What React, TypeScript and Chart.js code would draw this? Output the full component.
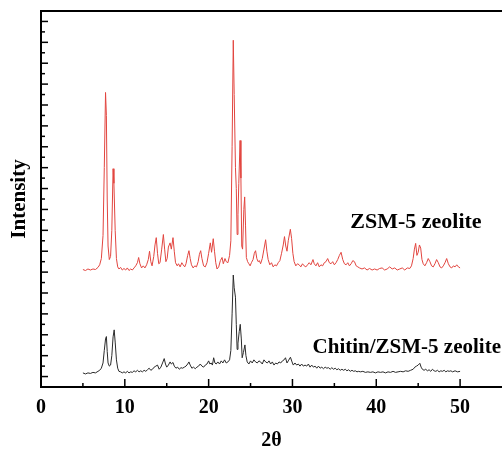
import { useEffect, useRef } from 'react';
import { Chart, registerables } from 'chart.js';

Chart.register(...registerables);

// ---- Data ----
const seriesNames = ['ZSM-5 zeolite', 'Chitin/ZSM-5 zeolite'];
const majorXTicks = [0, 10, 20, 30, 40, 50];

const zsmTheta = [
  5.0, 5.3, 5.6, 5.9, 6.2, 6.5, 6.8, 7.0, 7.2, 7.4, 7.55, 7.7, 7.8, 7.9, 8.0, 8.15, 8.3, 8.45, 8.6, 8.7,
  8.85, 9.0, 9.15, 9.3, 9.5, 9.7, 9.9, 10.1, 10.3, 10.5, 10.7, 10.9, 11.1, 11.3, 11.5, 11.65, 11.8, 12.0, 12.2, 12.4,
  12.6, 12.8, 12.95, 13.1, 13.25, 13.45, 13.6, 13.75, 13.9, 14.05, 14.2, 14.4, 14.6, 14.75, 14.9, 15.05, 15.2, 15.4, 15.55, 15.75,
  15.9, 16.05, 16.25, 16.4, 16.6, 16.8, 16.95, 17.15, 17.3, 17.5, 17.65, 17.8, 17.95, 18.15, 18.35, 18.55, 18.75, 18.9, 19.05, 19.2,
  19.4, 19.6, 19.8, 20.0, 20.2, 20.35, 20.55, 20.7, 20.85, 21.0, 21.2, 21.4, 21.6, 21.75, 21.95, 22.1, 22.3, 22.5, 22.65, 22.8,
  22.94, 23.05, 23.2, 23.3, 23.4, 23.5, 23.6, 23.75, 23.85, 23.95, 24.05, 24.2, 24.3, 24.4, 24.5, 24.65, 24.8, 24.95, 25.1, 25.3,
  25.45, 25.6, 25.75, 25.9, 26.05, 26.2, 26.4, 26.6, 26.8, 26.95, 27.1, 27.3, 27.5, 27.7, 27.9, 28.1, 28.3, 28.5, 28.7, 28.9,
  29.05, 29.2, 29.35, 29.5, 29.75, 29.9, 30.05, 30.2, 30.4, 30.6, 30.8, 31.0, 31.2, 31.4, 31.6, 31.8, 32.0, 32.2, 32.45, 32.6,
  32.8, 33.0, 33.2, 33.4, 33.6, 33.8, 34.0, 34.2, 34.4, 34.6, 34.8, 35.0, 35.2, 35.4, 35.6, 35.8, 36.0, 36.2, 36.4, 36.6,
  36.8, 37.0, 37.2, 37.4, 37.6, 37.8, 38.0, 38.3, 38.6, 38.9, 39.2, 39.5, 39.8, 40.1, 40.4, 40.7, 41.0, 41.3, 41.6, 41.9,
  42.2, 42.5, 42.8, 43.1, 43.4, 43.7, 44.0, 44.2, 44.4, 44.55, 44.7, 44.85, 45.0, 45.15, 45.3, 45.45, 45.6, 45.8, 46.0, 46.2,
  46.4, 46.6, 46.8, 47.0, 47.2, 47.4, 47.6, 47.8, 48.0, 48.2, 48.4, 48.6, 48.8, 49.0, 49.2, 49.4, 49.6, 49.8, 50.0,
];
const zsmIntensity = [
  10.25, 10.15, 10.3, 10.2, 10.3, 10.25, 10.45, 10.7, 11.3, 13.5, 20.0, 27.2, 25.0, 17.0, 12.5, 11.2, 11.5, 14.0, 19.9, 18.5,
  14.0, 11.3, 10.5, 10.3, 10.45, 10.2, 10.35, 10.2, 10.4, 10.15, 10.3, 10.2, 10.4, 10.6, 10.9, 11.4, 10.8, 10.4, 10.6, 10.4,
  10.7, 11.2, 12.0, 11.0, 10.6, 11.5, 12.6, 13.3, 11.8, 10.8, 10.9, 12.2, 13.6, 12.2, 11.0, 11.3, 12.4, 12.8, 12.2, 13.3,
  12.0, 10.9, 10.6, 10.8, 10.5, 10.9, 10.7, 10.5, 10.8, 11.6, 12.05, 11.3, 10.7, 10.4, 10.6, 10.5, 11.0, 11.7, 12.05, 11.3,
  10.6, 10.5, 10.9, 11.8, 12.8, 11.9, 13.2, 12.0, 10.9, 10.3, 10.5, 11.1, 11.4, 10.8, 11.3, 11.0, 10.9, 11.6, 13.0, 22.0,
  32.2, 27.0, 20.0, 18.0, 13.6, 15.5, 18.5, 22.6, 19.0, 12.5, 12.2, 16.0, 17.2, 14.5, 11.4, 11.0, 10.8, 10.6, 10.9, 11.2,
  11.8, 12.05, 11.3, 11.0, 11.1, 10.8, 11.3, 12.2, 13.1, 12.0, 11.2, 10.7, 10.9, 10.5, 10.7, 10.6, 10.9, 11.1, 11.8, 12.6,
  13.4, 12.5, 12.0, 13.0, 14.1, 13.2, 11.8, 11.0, 10.6, 10.8, 10.7, 10.5, 10.8, 10.6, 10.5, 10.7, 10.9, 10.7, 11.2, 10.8,
  10.6, 10.9, 10.5, 10.7, 10.6, 10.9, 11.0, 11.3, 10.9, 10.8, 11.0, 10.7, 10.9, 11.2, 11.6, 11.9, 11.2, 10.8, 10.7, 10.9,
  10.6, 10.8, 11.1, 11.0, 10.6, 10.5, 10.4, 10.3, 10.4, 10.2, 10.35, 10.2, 10.3, 10.2, 10.35, 10.4, 10.2, 10.3, 10.5, 10.3,
  10.4, 10.2, 10.3, 10.4, 10.2, 10.4, 10.35, 10.6, 11.3, 12.2, 12.75, 11.6, 11.9, 12.6, 12.3, 11.2, 10.8, 10.6, 10.9, 11.3,
  11.0, 10.6, 10.5, 10.8, 11.2, 10.9, 10.5, 10.4, 10.6, 10.9, 11.3, 10.8, 10.5, 10.4, 10.6, 10.5, 10.7, 10.5, 10.4,
];

const chitinTheta = [
  5.0, 5.3, 5.6, 5.9, 6.2, 6.5, 6.8, 7.0, 7.2, 7.4, 7.55, 7.7, 7.8, 7.9, 8.0, 8.15, 8.3, 8.45, 8.6, 8.73,
  8.85, 9.0, 9.15, 9.3, 9.5, 9.7, 9.9, 10.1, 10.3, 10.5, 10.7, 10.9, 11.1, 11.3, 11.5, 11.7, 11.9, 12.1, 12.3, 12.5,
  12.7, 12.9, 13.1, 13.3, 13.5, 13.7, 13.9, 14.1, 14.3, 14.5, 14.7, 14.85, 15.0, 15.2, 15.4, 15.55, 15.75, 15.9, 16.1, 16.3,
  16.5, 16.7, 16.9, 17.1, 17.3, 17.5, 17.65, 17.8, 18.0, 18.2, 18.4, 18.6, 18.8, 19.0, 19.2, 19.4, 19.6, 19.8, 20.0, 20.15,
  20.3, 20.45, 20.6, 20.75, 20.9, 21.1, 21.3, 21.5, 21.7, 21.9, 22.1, 22.3, 22.5, 22.65, 22.8, 22.94, 23.05, 23.2, 23.3, 23.4,
  23.5, 23.65, 23.77, 23.9, 24.0, 24.15, 24.33, 24.45, 24.6, 24.8, 25.0, 25.2, 25.4, 25.6, 25.8, 26.0, 26.2, 26.4, 26.6, 26.8,
  27.0, 27.2, 27.4, 27.6, 27.8, 28.0, 28.2, 28.4, 28.6, 28.8, 29.0, 29.17, 29.35, 29.5, 29.76, 29.95, 30.1, 30.3, 30.5, 30.7,
  30.9, 31.1, 31.3, 31.5, 31.7, 31.9, 32.1, 32.3, 32.5, 32.7, 32.9, 33.1, 33.3, 33.5, 33.7, 33.9, 34.1, 34.3, 34.5, 34.7,
  34.9, 35.1, 35.3, 35.5, 35.7, 35.9, 36.1, 36.3, 36.5, 36.7, 36.9, 37.1, 37.3, 37.5, 37.7, 37.9, 38.1, 38.4, 38.7, 39.0,
  39.3, 39.6, 39.9, 40.2, 40.5, 40.8, 41.1, 41.4, 41.7, 42.0, 42.3, 42.6, 42.9, 43.2, 43.5, 43.8, 44.1, 44.4, 44.6, 44.8,
  45.0, 45.2, 45.35, 45.5, 45.7, 45.9, 46.1, 46.3, 46.5, 46.7, 46.9, 47.1, 47.3, 47.5, 47.7, 47.9, 48.1, 48.3, 48.5, 48.7,
  48.9, 49.1, 49.4, 49.7, 50.0,
];
const chitinIntensity = [
  0.35, 0.25, 0.35, 0.3, 0.4, 0.35, 0.5, 0.6, 0.8, 1.3, 2.5, 3.6, 3.83, 2.4, 1.3, 1.0, 1.1, 2.0, 3.8, 4.47,
  3.3, 1.6, 0.8, 0.5, 0.45, 0.35, 0.45, 0.35, 0.5, 0.35, 0.45, 0.4, 0.55, 0.45, 0.6, 0.45, 0.55, 0.45, 0.6, 0.5,
  0.65, 0.8, 0.6, 0.7, 0.9, 1.0, 1.1, 0.7, 0.9, 1.3, 1.72, 1.2, 0.9, 1.1, 1.4, 1.2, 1.35, 1.0, 0.8, 0.9,
  0.7, 0.85, 0.8, 0.9, 1.0, 1.2, 1.4, 1.1, 0.8, 0.9, 0.75, 0.9, 1.0, 1.2, 1.0, 0.9, 1.1, 1.2, 1.5, 1.2,
  1.3, 1.1, 1.8, 1.3, 1.2, 1.4, 1.2, 1.5, 1.3, 1.6, 1.3, 1.4, 1.6, 2.5, 6.0, 9.72, 8.5, 7.6, 5.0, 2.6,
  3.2, 4.3, 5.0, 3.6, 1.8, 2.3, 3.03, 2.0, 1.4, 1.2, 1.5, 1.3, 1.6, 1.4, 1.3, 1.5, 1.4, 1.2, 1.6, 1.4,
  1.3, 1.5, 1.2, 1.4, 1.1, 1.3, 1.2, 1.4, 1.3, 1.5, 1.6, 1.8, 1.3, 1.5, 1.85, 1.4, 1.1, 1.3, 1.1, 1.2,
  1.0, 1.2, 1.0, 1.1, 1.0, 1.2, 0.9, 1.1, 0.9, 1.0, 0.8, 1.0, 0.8, 0.9, 0.75, 0.9, 0.8, 0.85, 0.7, 0.85,
  0.7, 0.8, 0.65, 0.75, 0.6, 0.7, 0.6, 0.7, 0.55, 0.65, 0.5, 0.6, 0.5, 0.55, 0.45, 0.5, 0.45, 0.5, 0.4, 0.45,
  0.4, 0.45, 0.35, 0.45, 0.4, 0.45, 0.35, 0.45, 0.4, 0.5, 0.4, 0.45, 0.5, 0.45, 0.55, 0.5, 0.6, 0.7, 0.9, 1.0,
  1.1, 1.27, 0.9, 0.7, 0.6, 0.7, 0.55, 0.65, 0.5, 0.7, 0.55, 0.5, 0.6, 0.45, 0.55, 0.5, 0.6, 0.45, 0.55, 0.5,
  0.55, 0.45, 0.55, 0.45, 0.5,
];

// ---- Style / layout (kept apart from the data) ----
const FONT = '"Liberation Serif", "Times New Roman", serif';
const labelAnchors = [
  { theta: 36.9, level: 14.2, size: 22 },
  { theta: 32.4, level: 2.3, size: 21 },
];

const frameTicksLabels = {
  id: 'frameTicksLabels',
  afterDraw(chart: any) {
    const { ctx, chartArea: a, scales } = chart;
    const xs = scales.x;
    const ys = scales.y;
    ctx.save();
    ctx.strokeStyle = '#000';
    ctx.lineWidth = 2;
    ctx.beginPath();
    ctx.moveTo(a.left - 1, a.top);
    ctx.lineTo(a.right, a.top);
    ctx.stroke();

    ctx.lineWidth = 1.5;
    xs.ticks.forEach((t: any) => {
      if (t.value <= xs.min || t.value >= xs.max) return;
      const px = xs.getPixelForValue(t.value);
      const len = t.value % 10 === 0 ? 8 : 4;
      ctx.beginPath();
      ctx.moveTo(px, a.bottom);
      ctx.lineTo(px, a.bottom - len);
      ctx.stroke();
    });
    ys.ticks.forEach((t: any) => {
      if (t.value <= ys.min || t.value >= ys.max) return;
      const py = ys.getPixelForValue(t.value);
      const len = Math.abs(t.value % 2) === 0 ? 7 : 4;
      ctx.beginPath();
      ctx.moveTo(a.left, py);
      ctx.lineTo(a.left + len, py);
      ctx.stroke();
    });

    ctx.fillStyle = '#000';
    ctx.textAlign = 'left';
    ctx.textBaseline = 'alphabetic';
    seriesNames.forEach((name, i) => {
      const an = labelAnchors[i];
      ctx.font = `bold ${an.size}px ${FONT}`;
      ctx.fillText(name, xs.getPixelForValue(an.theta), ys.getPixelForValue(an.level));
    });
    ctx.restore();
  },
};

export default function App() {
  const ref = useRef<HTMLCanvasElement | null>(null);

  useEffect(() => {
    if (!ref.current) return;
    const chart = new Chart(ref.current, {
      type: 'line',
      data: {
        datasets: [
          {
            label: seriesNames[0],
            data: zsmTheta.map((t, i) => ({ x: t, y: zsmIntensity[i] })),
            borderColor: '#e2453f',
            borderWidth: 1,
            pointRadius: 0,
            tension: 0,
          },
          {
            label: seriesNames[1],
            data: chitinTheta.map((t, i) => ({ x: t, y: chitinIntensity[i] })),
            borderColor: '#2a2a2a',
            borderWidth: 1,
            pointRadius: 0,
            tension: 0,
          },
        ],
      },
      options: {
        animation: false,
        responsive: false,
        maintainAspectRatio: false,
        layout: { padding: { top: 11, right: 0, bottom: 0, left: 0 } },
        plugins: { legend: { display: false }, tooltip: { enabled: false } },
        scales: {
          x: {
            type: 'linear',
            min: 0,
            max: 55,
            grid: { display: false, drawTicks: false },
            border: { display: true, color: '#000', width: 2 },
            ticks: {
              stepSize: 5,
              autoSkip: false,
              includeBounds: false,
              maxRotation: 0,
              padding: 9,
              color: '#000',
              font: { family: FONT, size: 20, weight: 'bold', lineHeight: 1.2 },
              callback: (v: any) => (majorXTicks.includes(Number(v)) ? String(v) : ''),
            },
            title: {
              display: true,
              text: '2θ',
              color: '#000',
              font: { family: FONT, size: 20, weight: 'bold', lineHeight: 1 },
              padding: { top: 0, bottom: 1 },
            },
            afterFit: (s: any) => {
              s.height = 65;
              s.paddingLeft = 0;
              s.paddingRight = 0;
            },
          },
          y: {
            type: 'linear',
            min: -1,
            max: 35,
            grid: { display: false, drawTicks: false },
            border: { display: true, color: '#000', width: 2 },
            ticks: { display: false, stepSize: 1, autoSkip: false },
            title: {
              display: true,
              text: 'Intensity',
              color: '#000',
              font: { family: FONT, size: 21, weight: 'bold', lineHeight: 1 },
              padding: { top: 9.5, bottom: 0 },
            },
            afterFit: (s: any) => {
              s.width = 41;
              s.paddingTop = 0;
              s.paddingBottom = 0;
            },
          },
        },
      },
      plugins: [frameTicksLabels],
    });
    return () => chart.destroy();
  }, []);

  return (
    <div style={{ position: 'absolute', left: 0, top: 0, width: 502, height: 452, background: '#fff' }}>
      <canvas ref={ref} width={502} height={452} style={{ display: 'block', width: 502, height: 452 }} />
    </div>
  );
}
